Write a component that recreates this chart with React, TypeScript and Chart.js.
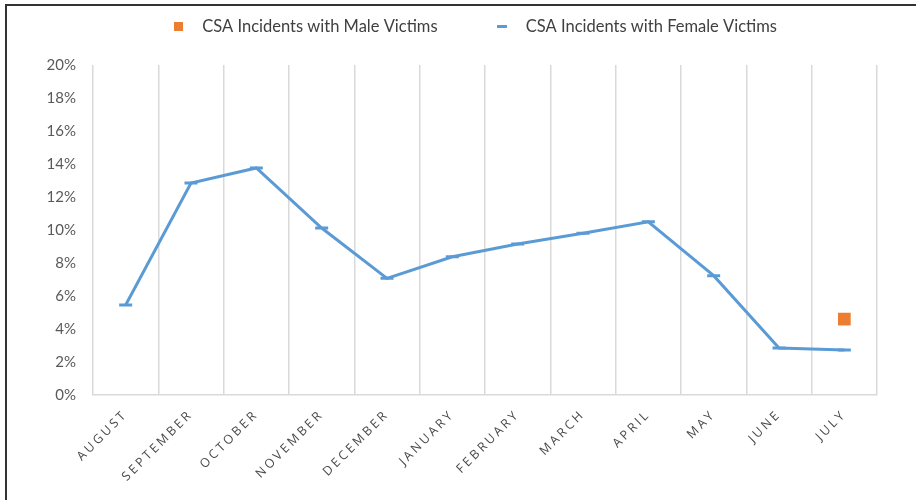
import React, { useEffect, useRef } from "react";
import { Chart, registerables } from "chart.js";

Chart.register(...registerables);

const months = ["AUGUST", "SEPTEMBER", "OCTOBER", "NOVEMBER", "DECEMBER", "JANUARY", "FEBRUARY", "MARCH", "APRIL", "MAY", "JUNE", "JULY"];
const maleVictims: (number | null)[] = [null, null, null, null, null, null, null, null, null, null, null, 4.6];
const femaleVictims = [5.45, 12.85, 13.76, 10.12, 7.07, 8.38, 9.15, 9.8, 10.5, 7.23, 2.85, 2.73];
const seriesNames = ["CSA Incidents with Male Victims", "CSA Incidents with Female Victims"];

const ORANGE = "#ED7D31";
const BLUE = "#5B9BD5";

function makeIcon(w: number, h: number, color: string) {
  const c = document.createElement("canvas");
  c.width = w;
  c.height = h;
  const g = c.getContext("2d")!;
  g.fillStyle = color;
  g.fillRect(0, 0, w, h);
  return c;
}

const LEGEND_PAD = 48;
const LEGEND_H = 65;
const LEGEND_DY = -30;
const LEGEND_DX = 31;

export default function App() {
  const ref = useRef<HTMLCanvasElement>(null);
  useEffect(() => {
    document.body.style.margin = "0";
    const icons = [makeIcon(9, 9, ORANGE), makeIcon(10, 3, BLUE)];
    const helperPlugin = {
      id: "layoutHelper",
      beforeInit(chart: any) {
        const lg = chart.legend;
        if (lg && !lg.__patched) {
          const f = lg.fit;
          lg.fit = function () {
            f.call(this);
            if (this.isHorizontal()) this.height = LEGEND_H;
          };
          lg.__patched = true;
        }
      },
      afterLayout(chart: any) {
        const lg = chart.legend;
        if (lg) {
          lg.top += LEGEND_DY;
          lg.bottom += LEGEND_DY;
          lg.left += LEGEND_DX;
          lg.right += LEGEND_DX;
        }
      },
      beforeDraw(chart: any) {
        const s = chart.scales.x;
        if (s && !s.__patched) {
          const orig = s.drawLabels;
          s.drawLabels = function (area: any) {
            const c = this.ctx;
            c.save();
            try { c.letterSpacing = "2.8px"; } catch (e) {}
            orig.call(this, area);
            c.restore();
          };
          s.__patched = true;
        }
      },
    };
    const chart = new Chart(ref.current!, {
      type: "line",
      data: {
        labels: months,
        datasets: [
          {
            label: seriesNames[0],
            data: maleVictims,
            showLine: false,
            borderColor: ORANGE,
            backgroundColor: ORANGE,
            pointStyle: "rect",
            pointRadius: 9,
            pointBorderWidth: 0,
            pointBackgroundColor: ORANGE,
          },
          {
            label: seriesNames[1],
            data: femaleVictims,
            borderColor: BLUE,
            backgroundColor: BLUE,
            borderWidth: 3,
            tension: 0,
            pointStyle: "line",
            pointRadius: 6.5,
            pointBorderWidth: 3,
            pointBorderColor: BLUE,
          },
        ],
      },
      options: {
        responsive: false,
        animation: false,
        layout: { padding: { top: 0, left: 0, right: 39, bottom: 0 } },
        plugins: {
          tooltip: { enabled: false },
          legend: {
            position: "top",
            labels: {
              usePointStyle: true,
              pointStyleWidth: 32,
              boxHeight: 10,
              padding: LEGEND_PAD,
              color: "#404040",
              font: { family: "Lato", size: 16.5 },
              generateLabels: (ch: any) =>
                Chart.defaults.plugins.legend.labels.generateLabels(ch).map((l: any, i: number) => ({ ...l, pointStyle: icons[i] })),
            },
          },
        },
        scales: {
          x: {
            offset: true,
            grid: { offset: true, color: "#D9D9D9", lineWidth: 1.5, drawTicks: false },
            border: { display: true, color: "#D9D9D9", width: 1.5 },
            ticks: {
              minRotation: 45,
              maxRotation: 45,
              autoSkip: false,
              padding: 12,
              color: "#4a4a4a",
              font: { family: "Open Sans", size: 12.5 },
            },
            afterFit: (s: any) => { s.height = 105; },
          },
          y: {
            min: 0,
            max: 20,
            grid: { display: false, drawTicks: false },
            border: { display: false },
            ticks: {
              stepSize: 2,
              padding: 17,
              color: "#595959",
              font: { family: "Lato", size: 15 },
              callback: (v: any) => `${v}%`,
            },
            afterFit: (s: any) => { s.width = 93; },
          },
        },
      },
      plugins: [helperPlugin],
    });
    return () => chart.destroy();
  }, []);
  return (
    <div style={{ position: "relative", width: 916, height: 500, background: "#fff" }}>
      <canvas ref={ref} width={916} height={500} style={{ position: "absolute", left: 0, top: 0 }} />
      <div style={{ position: "absolute", left: 5, top: 4, right: 0, bottom: 0, borderTop: "2px solid #333", borderLeft: "2px solid #333", pointerEvents: "none" }} />
    </div>
  );
}
